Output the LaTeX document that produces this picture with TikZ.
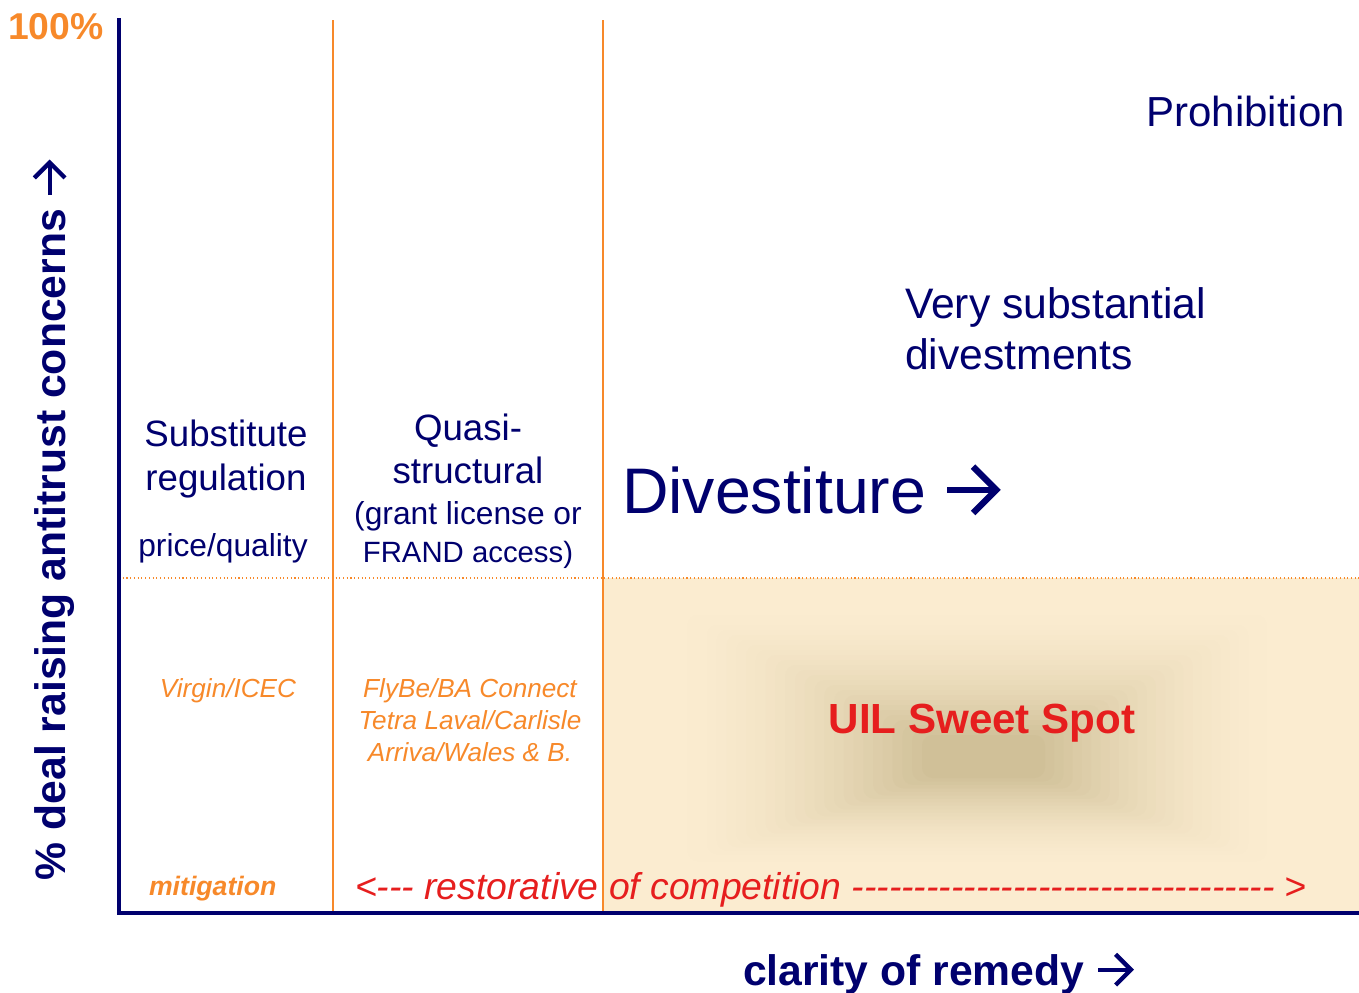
\documentclass[tikz,border=0pt]{standalone}
\usepackage{fontspec}
\setmainfont{Liberation Sans}[Ligatures=TeXOff]
\definecolor{navy}{RGB}{0,0,110}
\definecolor{accent}{RGB}{247,137,42}
\definecolor{remred}{RGB}{230,30,30}
\definecolor{beige}{RGB}{251,236,208}
\definecolor{glow}{RGB}{208,192,152}
% open-headed arrow sized to the surrounding font
\newcommand\openarrow{\tikz[baseline=0pt,line width=0.1em,line cap=butt,line join=miter]{%
  \draw (0,0.36em) -- (0.76em,0.36em);
  \draw (0.40em,0.72em) -- (0.76em,0.36em) -- (0.40em,0);}}
\begin{document}
\begin{tikzpicture}[x=0.75pt,y=-0.75pt,
  txt/.style={inner sep=0pt,outer sep=0pt},
  navytxt/.style={txt,text=navy},
  casetxt/.style={txt,text=accent,font=\fontsize{19.6}{23}\selectfont\itshape},
  axisline/.style={navy,line width=3pt},
  divider/.style={accent,line width=1.5pt},
]
\useasboundingbox (0,0) rectangle (1359,992);

% key points of the chart frame
\coordinate (O) at (119,913);
\coordinate (Ytop) at (119,20);
\coordinate (Xend) at (1359,913);
\coordinate (D1top) at (333,20);
\coordinate (D1bot) at (333,913);
\coordinate (D2top) at (603,20);
\coordinate (D2bot) at (603,913);
\coordinate (Hl) at (119,578);
\coordinate (Hr) at (1359,578);
\coordinate (Zone) at (1359,913);

% shaded lower-right zone with a soft glow in its middle
\fill[beige] (D2top |- Hl) rectangle (Zone);
\foreach \i in {0,...,26}{
  \pgfmathsetmacro\t{\i/26}
  \pgfmathsetmacro\xl{668+\t*(922-668)}
  \pgfmathsetmacro\xr{1285+\t*(1045-1285)}
  \pgfmathsetmacro\yt{605+\t*(735-605)}
  \pgfmathsetmacro\yb{868+\t*(778-868)}
  \pgfmathsetmacro\p{100*\t^1.7}
  \fill[glow!\p!beige,rounded corners=8pt] (\xl,\yt) rectangle (\xr,\yb);
}

% dotted separator and vertical dividers
\draw[accent,line width=0.8pt,dotted] (Hl) -- (Hr);
\draw[divider] (D1top) -- (D1bot);
\draw[divider] (D2top) -- (D2bot);

% axes
\draw[axisline,line cap=rect] (Ytop) -- (O) -- (Xend);

% labels
\node[txt,text=accent,font=\fontsize{28}{32}\selectfont\bfseries,anchor=base west] (full) at (8,39) {100\%};
\node[navytxt,font=\fontsize{32}{38}\selectfont\bfseries,rotate=90,anchor=base west] (ylab) at (65,880) {\% deal raising antitrust concerns \openarrow};
\node[navytxt,font=\fontsize{32}{38}\selectfont\bfseries,anchor=base west] (xlab) at (743,985) {clarity of remedy \openarrow};

\node[navytxt,font=\fontsize{31.5}{38}\selectfont,anchor=base east] (prohib) at (1345,126) {Prohibition};
\node[navytxt,font=\fontsize{32}{38}\selectfont,anchor=base west] (vsd1) at (905,318) {Very substantial};
\node[navytxt,font=\fontsize{32}{38}\selectfont,anchor=base west] (vsd2) at (905,369) {divestments};
\node[navytxt,font=\fontsize{48.3}{56}\selectfont,anchor=base west] (divest) at (622,513) {Divestiture \openarrow};

\node[navytxt,font=\fontsize{27.5}{32}\selectfont,anchor=base] (sub1) at (226,446) {Substitute};
\node[navytxt,font=\fontsize{27.5}{32}\selectfont,anchor=base] (sub2) at (226,490) {regulation};
\node[navytxt,font=\fontsize{23.8}{28}\selectfont,anchor=base] (pq) at (223,556) {price/quality};

\node[navytxt,font=\fontsize{27.5}{32}\selectfont,anchor=base] (qs1) at (468,440) {Quasi-};
\node[navytxt,font=\fontsize{27.5}{32}\selectfont,anchor=base] (qs2) at (468,483) {structural};
\node[navytxt,font=\fontsize{23.8}{28}\selectfont,anchor=base] (qs3) at (468,524) {(grant license or};
\node[navytxt,font=\fontsize{22}{26}\selectfont,anchor=base] (qs4) at (468,562) {FRAND access)};

\node[casetxt,anchor=base] (case1) at (228,697) {Virgin/ICEC};
\node[casetxt,anchor=base] (case2) at (470,697) {FlyBe/BA Connect};
\node[casetxt,anchor=base] (case3) at (470,729) {Tetra Laval/Carlisle};
\node[casetxt,anchor=base] (case4) at (470,761) {Arriva/Wales \& B.};

\node[txt,text=accent,font=\fontsize{20}{24}\selectfont\bfseries\itshape,anchor=base west] (mitig) at (149,895) {mitigation};
\node[txt,text=remred,font=\fontsize{28}{32}\selectfont\itshape,anchor=base west] (rest1) at (355,899) {<--- restorative};
\node[txt,text=remred,font=\fontsize{28}{32}\selectfont\itshape,anchor=base west] (rest2) at (609,899) {of competition ---------------------------------- >};

\node[txt,text=remred,font=\fontsize{31.6}{38}\selectfont\bfseries,anchor=base] (sweet) at (982,733) {UIL Sweet Spot};
\end{tikzpicture}
\end{document}
